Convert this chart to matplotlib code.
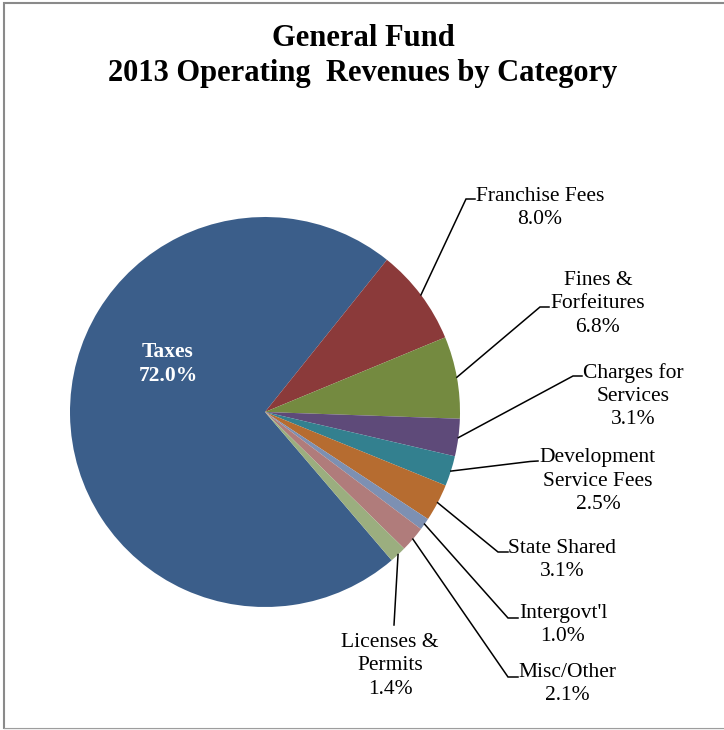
import numpy as np
import matplotlib
matplotlib.use("Agg")
import matplotlib.pyplot as plt
from matplotlib.patches import Rectangle

# revenue shares, in percent
categories = ["Taxes", "Franchise Fees", "Fines &\nForfeitures", "Charges for\nServices",
              "Development\nService Fees", "State Shared", "Intergovt'l", "Misc/Other",
              "Licenses &\nPermits"]
shares = [72.0, 8.0, 6.8, 3.1, 2.5, 3.1, 1.0, 2.1, 1.4]
colors = ["#3b5e8a", "#8b3a3a", "#748a40", "#5e4a79", "#33808f", "#b66c30",
          "#7d90b2", "#b07c7b", "#9bae7f"]

W, H = 724, 730
plt.rcParams["font.family"] = ["Liberation Serif", "DejaVu Serif"]

fig = plt.figure(figsize=(W / 100, H / 100), dpi=100)
ax = fig.add_axes([0, 0, 1, 1])


def Y(y):  # pixel row (from top) -> axis y
    return H - y


cx, cy, r = 265, Y(412), 195
wedges, _ = ax.pie(shares, colors=colors, startangle=-49.5, counterclock=False,
                   center=(cx, cy), radius=r, wedgeprops=dict(linewidth=0))

# label block centers and leader elbows (x, row)
label_pos = [(168, 364), (540, 208), (598, 304), (633, 396), (598, 481),
             (562, 560), (563, 625), (567, 684), (390, 666)]
elbows = [None, ((466, 199), (475, 199)), ((540, 307), (549, 307)),
          ((573, 376), (582, 376)), ((530, 461.5), (538, 461)),
          ((498, 552), (508, 552)), ((508, 618), (518, 618)),
          ((508, 677), (518, 677)), ((394, 625), (394, 625))]

for i, (w, name, val) in enumerate(zip(wedges, categories, shares)):
    lx, ly = label_pos[i]
    txt = f"{name}\n{val:.1f}%"
    if i == 0:
        ax.text(lx, Y(ly), txt, ha="center", va="center", fontsize=15.5,
                fontweight="bold", color="white", linespacing=1.3)
        continue
    ax.text(lx, Y(ly), txt, ha="center", va="center", fontsize=15.5,
            color="black", linespacing=1.3)
    mid = np.deg2rad((w.theta1 + w.theta2) / 2)
    px, py = cx + r * np.cos(mid), cy + r * np.sin(mid)
    (ex, ey), (sx, sy) = elbows[i]
    ax.plot([px, ex, sx], [py, Y(ey), Y(sy)], color="black", lw=1.1,
            solid_joinstyle="miter")

ax.text(363, Y(56), "General Fund\n2013 Operating  Revenues by Category",
        ha="center", va="center", fontsize=22, fontweight="bold", linespacing=1.25)

# chart frame
ax.add_patch(Rectangle((3.5, Y(729)), 740, 729 - 2.5, fill=False,
                       edgecolor="#8a8a8a", lw=1.5))
ax.plot([3.5, W], [Y(729), Y(729)], color="#eeeeee", lw=1)

ax.set_xlim(0, W)
ax.set_ylim(0, H)
ax.set_aspect("equal")
ax.axis("off")

fig.savefig("out.png", dpi=100)
